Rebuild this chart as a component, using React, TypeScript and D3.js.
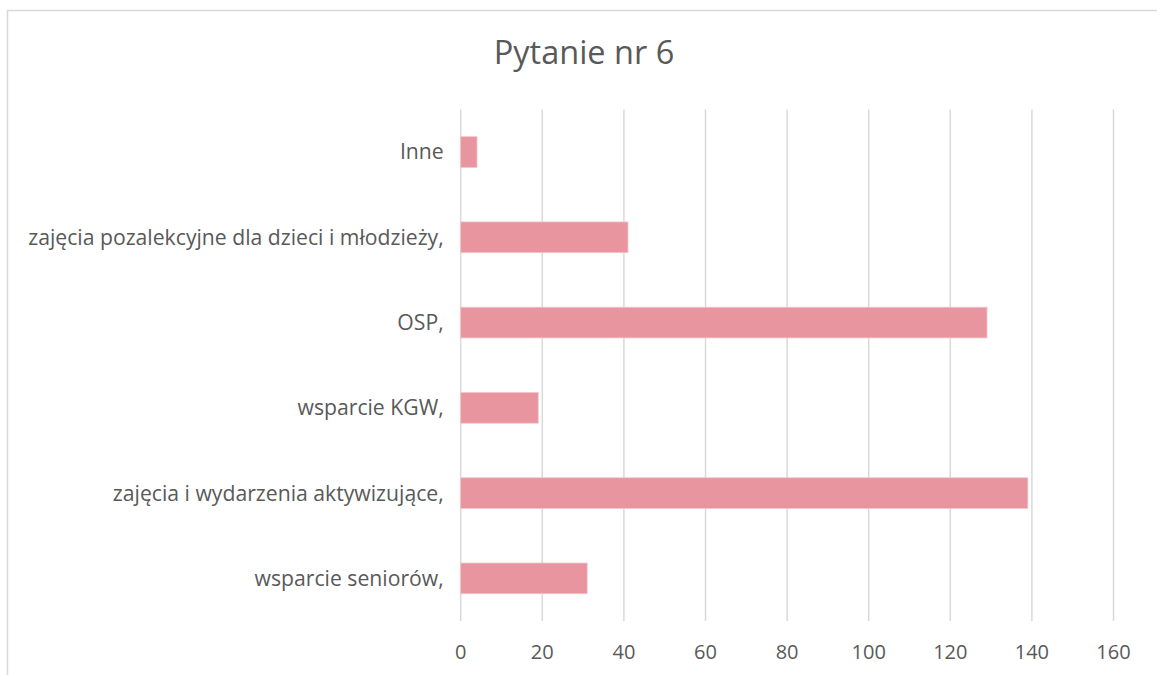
import React, { useEffect, useRef } from "react";
import * as d3 from "d3";

const categories = [
  "Inne",
  "zajęcia pozalekcyjne dla dzieci i młodzieży,",
  "OSP,",
  "wsparcie KGW,",
  "zajęcia i wydarzenia aktywizujące,",
  "wsparcie seniorów,",
];
const values = [4, 41, 129, 19, 139, 31];
const xTicks = [0, 20, 40, 60, 80, 100, 120, 140, 160];
const title = "Pytanie nr 6";

export default function App() {
  const svgRef = useRef<SVGSVGElement>(null);
  const width = 1157;
  const height = 675;

  useEffect(() => {
    const svg = d3.select(svgRef.current);
    svg.selectAll("*").remove();

    const margin = { top: 109.4, right: 43.5, bottom: 54, left: 460.7 };
    const chartWidth = width - margin.left - margin.right;
    const chartHeight = height - margin.top - margin.bottom;
    const font = "'Open Sans', sans-serif";
    const textColor = "#595959";
    const gridColor = "#D9D9D9";

    // Chart frame (only left and top edges are visible)
    svg
      .append("path")
      .attr("d", `M7.5,${height + 5} V10.5 H${width + 5}`)
      .attr("fill", "none")
      .attr("stroke", gridColor)
      .attr("stroke-width", 1.5);

    svg
      .append("text")
      .attr("x", 584)
      .attr("y", 64)
      .attr("text-anchor", "middle")
      .attr("font-family", font)
      .attr("font-size", 32.5)
      .attr("fill", textColor)
      .text(title);

    const x = d3.scaleLinear().domain([0, 160]).range([0, chartWidth]);
    const y = d3
      .scaleBand()
      .domain(categories)
      .range([0, chartHeight])
      .paddingInner(0.64)
      .paddingOuter(0.32);

    const g = svg
      .append("g")
      .attr("transform", `translate(${margin.left},${margin.top})`);

    // Gridlines
    g.selectAll("line.grid")
      .data(xTicks)
      .enter()
      .append("line")
      .attr("class", "grid")
      .attr("x1", (d) => x(d))
      .attr("x2", (d) => x(d))
      .attr("y1", 0)
      .attr("y2", chartHeight)
      .attr("stroke", gridColor)
      .attr("stroke-width", 1.5);

    // Bars
    g.selectAll("rect")
      .data(values)
      .enter()
      .append("rect")
      .attr("x", x(0))
      .attr("y", (d, i) => y(categories[i]) as number)
      .attr("width", (d) => x(d) - x(0))
      .attr("height", y.bandwidth())
      .attr("fill", "#E8959F")
      .attr("stroke", "#F2C4CA")
      .attr("stroke-width", 0.8);

    // X tick labels
    g.selectAll("text.xtick")
      .data(xTicks)
      .enter()
      .append("text")
      .attr("class", "xtick")
      .attr("x", (d) => x(d))
      .attr("y", chartHeight + 38)
      .attr("text-anchor", "middle")
      .attr("font-family", font)
      .attr("font-size", 20)
      .attr("fill", textColor)
      .text((d) => d);

    // Category labels
    g.selectAll("text.cat")
      .data(categories)
      .enter()
      .append("text")
      .attr("class", "cat")
      .attr("x", -17)
      .attr("y", (d) => (y(d) as number) + y.bandwidth() / 2)
      .attr("dy", "0.35em")
      .attr("text-anchor", "end")
      .attr("font-family", font)
      .attr("font-size", 21.2)
      .attr("fill", textColor)
      .text((d) => d);
  }, []);

  return (
    <div style={{ position: "absolute", left: 0, top: 0 }}>
      <svg ref={svgRef} width={width} height={height} style={{ display: "block" }}></svg>
    </div>
  );
}
